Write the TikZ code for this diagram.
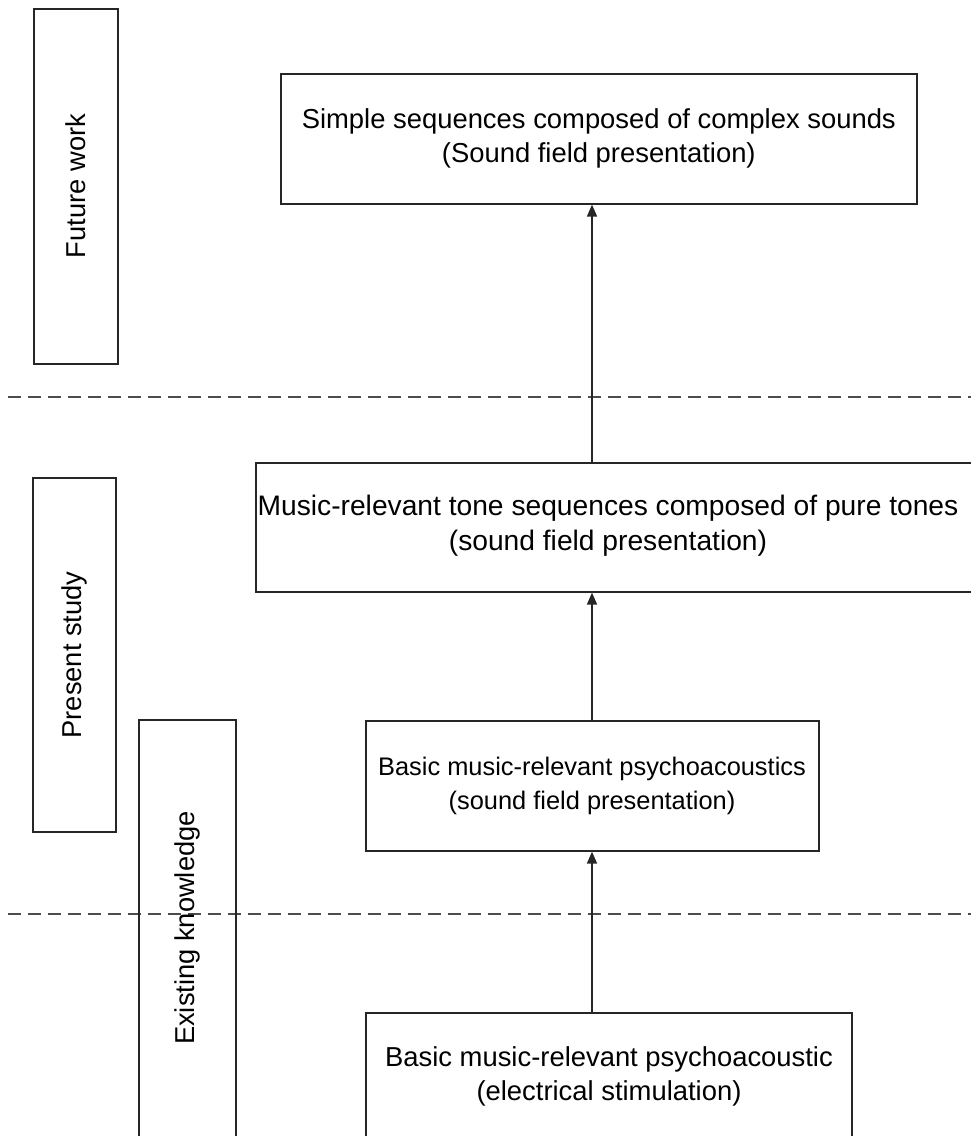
\documentclass[tikz,border=0pt]{standalone}
\usepackage{fontspec}
\setmainfont{Liberation Sans}
\usetikzlibrary{arrows.meta}
\begin{document}
\begin{tikzpicture}[x=1pt,y=-1pt,
  box/.style={draw=black!85,line width=1.6pt},
  lbl/.style={font=\fontsize{27.4}{34}\selectfont,align=center},
  sidelbl/.style={font=\fontsize{27.3}{32}\selectfont,rotate=90},
  sep/.style={draw=black!70,line width=1.5pt,dash pattern=on 13pt off 7pt},
  arr/.style={draw=black!85,line width=1.6pt,-{Triangle[length=12pt,width=10pt]}}]
\useasboundingbox (0,0) rectangle (971,1136);
\clip (0,0) rectangle (971,1136);
% dashed separators
\draw[sep] (8,397) -- (980,397);
\draw[sep] (8,914) -- (980,914);
% side boxes
\draw[box] (34,9) rectangle (118,364);
\node[sidelbl] (fw) at (76,186) {Future work};
\draw[box] (33,478) rectangle (116,832);
\node[sidelbl] (ps) at (74,655) {Present study};
\draw[box] (139,720) rectangle (236,1160);
\node[sidelbl] (ek) at (187,928) {Existing knowledge};
% main boxes
\node[box,minimum width=636pt,minimum height=130pt,anchor=north west,inner sep=0pt] (n1) at (280,73) {};
\node[lbl] (t1) at (n1.center) {Simple sequences composed of complex sounds\\(Sound field presentation)};
\node[box,minimum width=760pt,minimum height=129pt,anchor=north west,inner sep=0pt] (n2) at (255,462) {};
\node[lbl,font=\fontsize{28.2}{35}\selectfont] (t2) at (608,526) {Music-relevant tone sequences composed of pure tones\\(sound field presentation)};
\node[box,minimum width=453pt,minimum height=130pt,anchor=north west,inner sep=0pt] (n3) at (365,720) {};
\node[lbl,font=\fontsize{25.4}{34}\selectfont] (t3) at (592,786) {Basic music-relevant psychoacoustics\\(sound field presentation)};
\node[box,minimum width=486pt,minimum height=160pt,anchor=north west,inner sep=0pt] (n4) at (365,1012) {};
\node[lbl] (t4) at (609,1076) {Basic music-relevant psychoacoustic\\(electrical stimulation)};
% arrows
\draw[arr] (n2.north -| 592,0) -- (n1.south -| 592,0);
\draw[arr] (n3.north -| 592,0) -- (n2.south -| 592,0);
\draw[arr] (n4.north -| 592,0) -- (n3.south -| 592,0);
\end{tikzpicture}
\end{document}
